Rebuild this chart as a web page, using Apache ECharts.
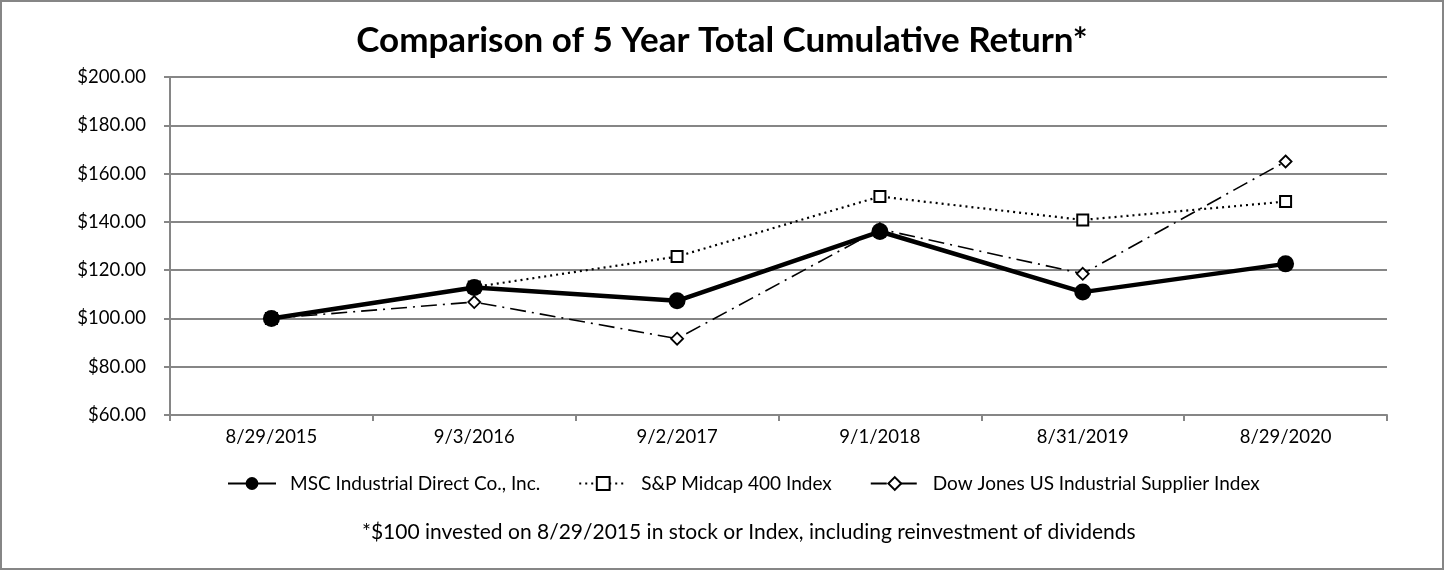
<!DOCTYPE html>
<html><head><meta charset="utf-8">
<script src="https://cdn.jsdelivr.net/npm/echarts@6/dist/echarts.min.js"></script>
<style>html,body{margin:0;padding:0;background:#fff}#c{width:1444px;height:570px}</style>
</head><body><div id="c"></div>
<script>
const categories = ['8/29/2015','9/3/2016','9/2/2017','9/1/2018','8/31/2019','8/29/2020'];
const mscValues = [100, 112.8, 107.3, 136.0, 110.9, 122.6];
const spValues = [100, 113.0, 125.6, 150.5, 140.8, 148.4];
const djValues = [100, 106.8, 91.6, 137.0, 118.5, 165.0];
const seriesNames = ['MSC Industrial Direct Co., Inc.', 'S&P Midcap 400 Index', 'Dow Jones US Industrial Supplier Index'];
const yTicks = {min: 60, max: 200, interval: 20};

const F = 'Lato, "Noto Sans", sans-serif';
const chart = echarts.init(document.getElementById('c'), null, {renderer: 'canvas'});
chart.setOption({
  backgroundColor: '#fff',
  animation: false,
  title: {
    text: 'Comparison of 5 Year Total Cumulative Return*',
    left: 'center', top: 18,
    textStyle: {fontFamily: F, fontSize: 35, fontWeight: 'bold', color: '#000'}
  },
  graphic: [
    {type: 'rect', shape: {x: 1, y: 1, width: 1442, height: 568}, style: {fill: 'none', stroke: '#868686', lineWidth: 2}},
    {type: 'text', left: 362, top: 522, style: {text: '*$100 invested on 8/29/2015 in stock or Index, including reinvestment of dividends', font: '21px ' + F, fill: '#000'}}
  ],
  legend: {
    top: 469, left: 222,
    itemWidth: 48, itemHeight: 16, itemGap: 38,
    textStyle: {fontFamily: F, fontSize: 19, color: '#000', padding: [0, 0, 0, 9]},
    data: seriesNames
  },
  grid: {left: 170, right: 57, top: 77, bottom: 155},
  xAxis: {
    type: 'category', data: categories, boundaryGap: true,
    axisLine: {lineStyle: {color: '#868686', width: 2}},
    axisTick: {show: true, length: 6, lineStyle: {color: '#868686', width: 2}},
    axisLabel: {fontFamily: F, fontSize: 18.5, color: '#000', margin: 13}
  },
  yAxis: {
    type: 'value', min: yTicks.min, max: yTicks.max, interval: yTicks.interval,
    axisLine: {show: true, lineStyle: {color: '#868686', width: 2}},
    axisTick: {show: true, length: 6, lineStyle: {color: '#868686', width: 2}},
    axisLabel: {fontFamily: F, fontSize: 18.5, color: '#000', margin: 24, formatter: v => '$' + v.toFixed(2)},
    splitLine: {lineStyle: {color: '#868686', width: 2}}
  },
  series: [
    {name: seriesNames[0], type: 'line', data: mscValues, z: 5,
     symbol: 'circle', symbolSize: 17,
     itemStyle: {color: '#000'},
     lineStyle: {color: '#000', width: 4.5}},
    {name: seriesNames[1], type: 'line', data: spValues, z: 4,
     symbol: 'rect', symbolSize: 11,
     itemStyle: {color: '#fff', borderColor: '#000', borderWidth: 2},
     lineStyle: {color: '#000', width: 2.2, type: [2, 4]}},
    {name: seriesNames[2], type: 'line', data: djValues, z: 3,
     symbol: 'diamond', symbolSize: 12,
     itemStyle: {color: '#fff', borderColor: '#000', borderWidth: 1.8},
     lineStyle: {color: '#000', width: 1.6, type: [16, 6, 2, 6]}}
  ]
});
</script></body></html>
